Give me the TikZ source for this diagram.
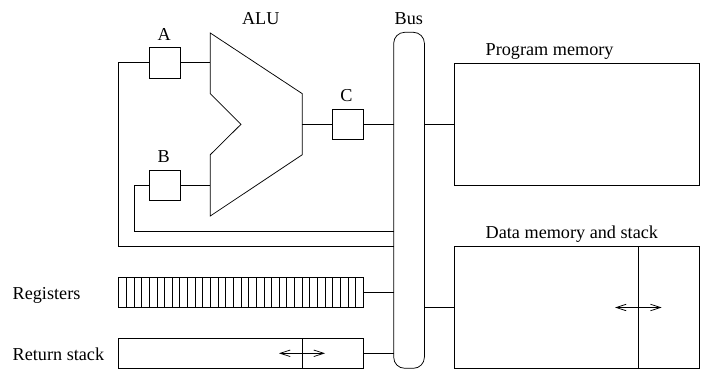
\documentclass[tikz,border=0pt]{standalone}
\usepackage{fontspec}
\setmainfont{Liberation Serif}
\usetikzlibrary{arrows.meta,calc}
\tikzset{
  x=1pt,y=-1pt,
  every path/.style={line width=0.75pt,line join=miter},
  box/.style={draw,rectangle,inner sep=0pt,outer sep=0pt,anchor=north west,minimum width=#1},
  reg/.style={box=30.7pt,minimum height=30.7pt},
  lab/.style={inner sep=0pt,font=\fontsize{18.2}{20}\selectfont,anchor=base west},
  twohead/.style={{Straight Barb[length=10pt,width=6.5pt,line width=0.75pt]}-{Straight Barb[length=10pt,width=6.5pt,line width=0.75pt]}}
}
\begin{document}
\begin{tikzpicture}
\useasboundingbox (0,0) rectangle (707,372);
% bus
\node[box=30.7pt,minimum height=336pt,rounded corners=11pt] (bus) at (393.7,32.3) {};
% registers of the ALU
\node[reg] (A) at (149.3,47.3) {};
\node[reg] (B) at (149.3,170) {};
\node[reg] (C) at (332.7,109) {};
% ALU
\coordinate (aluA) at (210.3,63);
\coordinate (aluB) at (210.3,185.3);
\coordinate (aluC) at (302.3,124.3);
\draw (210.3,33) -- (302.3,93.7) -- (302.3,154.7) -- (210.3,216) -- (210.3,154.7) -- (241,124.3) -- (210.3,93.7) -- cycle;
% wires in the data path
\coordinate (leftA) at (118.7,246.3);
\coordinate (leftB) at (134,231);
\draw (A.east) -- (A.east -| aluA);
\draw (B.east) -- (B.east -| aluB);
\draw (C.west -| aluC) -- (C.west);
\draw (C.east) -- (bus.west |- C.east);
\draw (A.west) -| (leftA) -- (bus.west |- leftA);
\draw (B.west) -| (leftB) -- (bus.west |- leftB);
% register file
\node[box=244.6pt,minimum height=30.4pt] (regs) at (118.7,277.3) {};
\foreach \i in {1,...,31} \draw ($(regs.north west)+(7.644*\i,0)$) -- ($(regs.south west)+(7.644*\i,0)$);
\draw (regs.east) -- (bus.west |- regs.east);
% return stack
\node[box=244.6pt,minimum height=30pt] (rs) at (118.7,338.3) {};
\coordinate (rsT) at (302,338.3);
\coordinate (rsB) at (302,368.3);
\draw (rsT) -- (rsB);
\coordinate (rsL) at (279,353.3);
\coordinate (rsR) at (325,353.3);
\draw[twohead] (rsL) -- (rsR);
\draw (rs.east) -- (bus.west |- rs.east);
% memories
\node[box=244.6pt,minimum height=121.7pt] (pm) at (454.7,63.3) {};
\node[box=244.6pt,minimum height=122pt] (dm) at (454.7,246.7) {};
\coordinate (dmT) at (638.3,246.7);
\coordinate (dmB) at (638.3,368.7);
\draw (dmT) -- (dmB);
\coordinate (dmL) at (615,307.5);
\coordinate (dmR) at (661.7,307.5);
\draw[twohead] (dmL) -- (dmR);
\draw (bus.east |- pm.west) -- (pm.west);
\draw (bus.east |- dm.west) -- (dm.west);
% labels
\node[lab] (lA) at (157.3,40) {A};
\node[lab] (lB) at (157.3,162.7) {B};
\node[lab] (lC) at (340,101.7) {C};
\node[lab] (lALU) at (241.7,24.3) {ALU};
\node[lab] (lBus) at (394.3,24.3) {Bus};
\node[lab] (lPM) at (485.3,55) {Program memory};
\node[lab] (lDM) at (485.3,238.3) {Data memory and stack};
\node[lab] (lRg) at (12.3,299.3) {Registers};
\node[lab] (lRs) at (12.3,360.7) {Return stack};
\end{tikzpicture}
\end{document}
